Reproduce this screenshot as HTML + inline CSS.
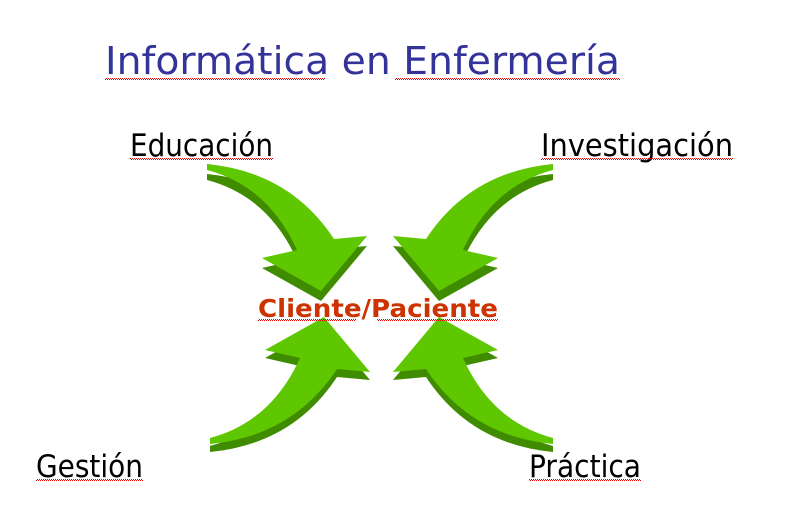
<!DOCTYPE html>
<html><head><meta charset="utf-8"><style>
body{margin:0;background:#fff;width:796px;height:527px;overflow:hidden}
svg{display:block}
</style></head><body>
<svg width="796" height="527" viewBox="0 0 796 527" xmlns="http://www.w3.org/2000/svg">
<defs>
<pattern id="wv" width="4" height="2" patternUnits="userSpaceOnUse"><rect x="0" y="0" width="1" height="1" fill="#e00"/><rect x="1" y="1" width="1" height="1" fill="#e00"/><rect x="2" y="0" width="1" height="1" fill="#e00"/><rect x="3" y="1" width="1" height="1" fill="#e00"/></pattern>
<path id="ar" d="M207,164 Q290,172 334,239 L367,236 L321,291 L262,258 L297,250 Q268,186 207,170 Z"/>
</defs>
<g><use href="#ar" transform="translate(0,10)" fill="#3f8c00"/><use href="#ar" fill="#5ec700"/></g>
<g transform="translate(760,0) scale(-1,1)"><use href="#ar" transform="translate(0,10)" fill="#3f8c00"/><use href="#ar" fill="#5ec700"/></g>
<g transform="translate(3,0)"><g transform="translate(0,8)"><use href="#ar" transform="translate(0,608) scale(1,-1)" fill="#3f8c00"/></g><use href="#ar" transform="translate(0,608) scale(1,-1)" fill="#5ec700"/></g>
<g transform="translate(760,0) scale(-1,1)"><g transform="translate(0,8)"><use href="#ar" transform="translate(0,608) scale(1,-1)" fill="#3f8c00"/></g><use href="#ar" transform="translate(0,608) scale(1,-1)" fill="#5ec700"/></g>

<g font-family="'DejaVu Sans','Liberation Sans',sans-serif">
<text x="105" y="74" font-size="38" fill="#333399" textLength="515" lengthAdjust="spacingAndGlyphs">Informática en Enfermería</text>
<rect x="105" y="78" width="220" height="2" fill="url(#wv)"/>
<rect x="395" y="78" width="225" height="2" fill="url(#wv)"/>
<text x="130" y="156" font-size="31" fill="#000" textLength="143" lengthAdjust="spacingAndGlyphs">Educación</text>
<rect x="130" y="158" width="143" height="2" fill="url(#wv)"/>
<text x="541" y="156" font-size="31" fill="#000" textLength="192" lengthAdjust="spacingAndGlyphs">Investigación</text>
<rect x="541" y="158" width="192" height="2" fill="url(#wv)"/>
<text x="36" y="477" font-size="31" fill="#000" textLength="107" lengthAdjust="spacingAndGlyphs">Gestión</text>
<rect x="36" y="479" width="107" height="2" fill="url(#wv)"/>
<text x="529" y="477" font-size="31" fill="#000" textLength="112" lengthAdjust="spacingAndGlyphs">Práctica</text>
<rect x="529" y="479" width="112" height="2" fill="url(#wv)"/>
<text x="258" y="317" font-size="25" font-weight="bold" fill="#cc3300" textLength="240" lengthAdjust="spacingAndGlyphs">Cliente/Paciente</text>
<rect x="258" y="319" width="98" height="2" fill="url(#wv)"/>
<rect x="377" y="319" width="121" height="2" fill="url(#wv)"/>
</g>
</svg>
</body></html>
